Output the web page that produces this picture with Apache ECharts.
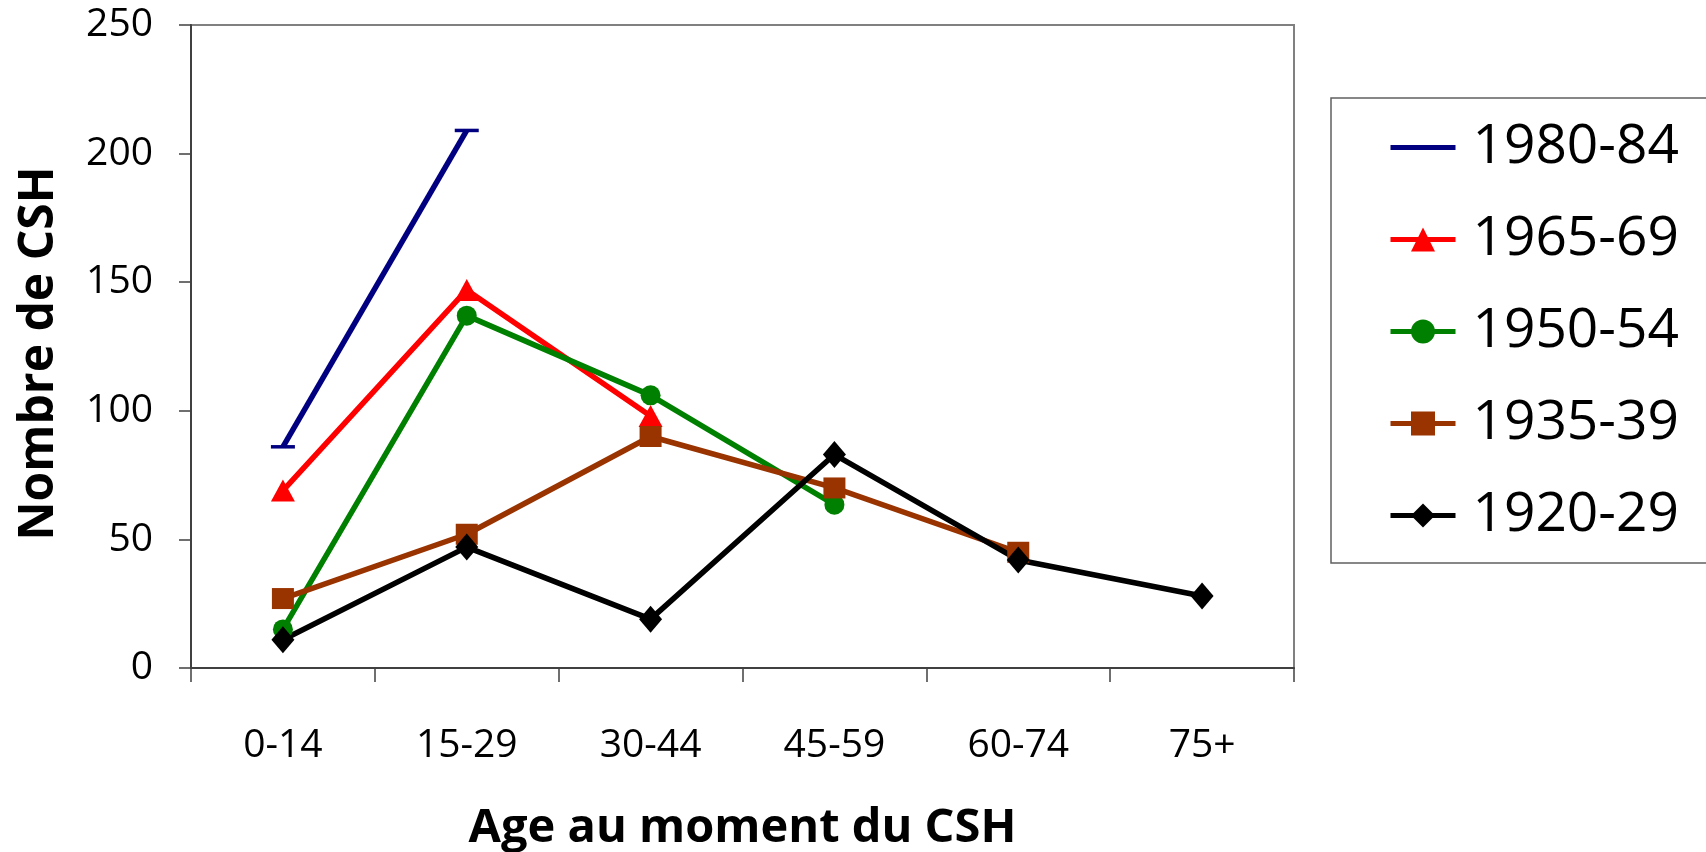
<!DOCTYPE html>
<html>
<head>
<meta charset="utf-8">
<script src="https://cdn.jsdelivr.net/npm/echarts@6/dist/echarts.min.js"></script>
<style>
html,body{margin:0;padding:0;background:#fff;}
#chart{width:1706px;height:852px;}
</style>
</head>
<body>
<div id="chart"></div>
<script>
const categories = ['0-14', '15-29', '30-44', '45-59', '60-74', '75+'];
const s1980 = [86, 209, null, null, null, null];
const s1965 = [69, 147, 98, null, null, null];
const s1950 = [15, 137, 106, 63.5, null, null];
const s1935 = [27, 52, 90, 70, 45, null];
const s1920 = [11, 47, 19, 83, 42, 28];
const yTicks = { min: 0, max: 250, interval: 50 };

const FONT = '"Open Sans", sans-serif';
const chart = echarts.init(document.getElementById('chart'), null, { renderer: 'canvas' });

function mk(name, data, color, symbol, size) {
  return {
    name, type: 'line', data,
    connectNulls: false,
    symbol, symbolSize: size,
    showSymbol: true,
    lineStyle: { color, width: 5.5 },
    itemStyle: { color, borderWidth: 0 },
    emphasis: { disabled: true },
    animation: false
  };
}

chart.setOption({
  animation: false,
  backgroundColor: '#ffffff',
  grid: { left: 191, right: 412, top: 25, bottom: 184, show: true, borderColor: '#808080', borderWidth: 2,
          containLabel: false, outerBoundsMode: 'none' },
  legend: {
    orient: 'vertical',
    left: 1331, top: 98,
    padding: [22, 80, 20, 57],
    itemGap: 37,
    itemWidth: 65, itemHeight: 30,
    borderColor: '#606060', borderWidth: 1.5,
    lineStyle: { width: 5 },
    textStyle: { fontFamily: FONT, fontSize: 55, color: '#000', lineHeight: 48, padding: [0, 0, 0, 12] },
    data: [
      { name: '1980-84', itemStyle: { opacity: 0 } },
      '1965-69', '1950-54', '1935-39', '1920-29'
    ]
  },
  xAxis: {
    type: 'category', data: categories, boundaryGap: true,
    name: 'Age au moment du CSH', nameLocation: 'middle', nameGap: 137,
    nameTextStyle: { fontFamily: FONT, fontSize: 47, fontWeight: 'bold', color: '#000' },
    axisLine: { lineStyle: { color: '#404040', width: 2 } },
    axisTick: { show: true, length: 14, interval: 0, lineStyle: { color: '#404040', width: 1.5 } },
    axisLabel: { fontFamily: FONT, fontSize: 39, color: '#000', margin: 58, interval: 0 },
    splitLine: { show: false }
  },
  yAxis: {
    type: 'value', min: yTicks.min, max: yTicks.max, interval: yTicks.interval,
    name: 'Nombre de CSH', nameLocation: 'middle', nameGap: 128, nameRotate: 90,
    nameTextStyle: { fontFamily: FONT, fontSize: 48, fontWeight: 'bold', color: '#000', padding: [0, 14, 0, 0] },
    axisLine: { show: true, lineStyle: { color: '#404040', width: 2 } },
    axisTick: { show: true, length: 12, lineStyle: { color: '#404040', width: 1.5 } },
    axisLabel: { fontFamily: FONT, fontSize: 39, color: '#000', margin: 38 },
    splitLine: { show: false }
  },
  series: [
    mk('1980-84', s1980, '#000080', 'rect', [24, 3.5]),
    mk('1965-69', s1965, '#FF0000', 'triangle', [24, 22]),
    mk('1950-54', s1950, '#008000', 'circle', 20),
    mk('1935-39', s1935, '#993300', 'rect', [22, 21]),
    mk('1920-29', s1920, '#000000', 'diamond', [23, 27])
  ]
});
</script>
</body>
</html>
